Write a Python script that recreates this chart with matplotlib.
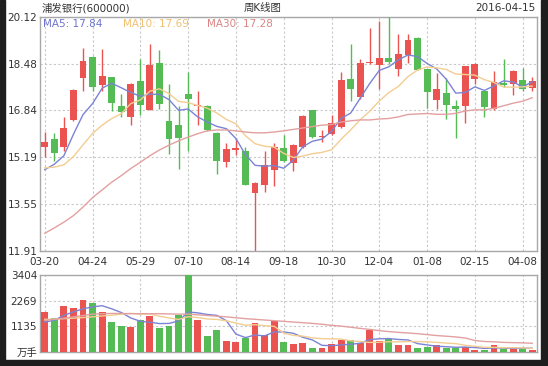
import numpy as np
import pandas as pd
import matplotlib
matplotlib.use('Agg')
import matplotlib.pyplot as plt
from matplotlib.patches import Rectangle

plt.rcParams['font.family'] = ['DejaVu Sans', 'Noto Sans CJK SC']

# weekly K-line data, 浦发银行 (600000), 2015-03-20 .. 2016-04-15
opens = [15.57, 15.82, 15.57, 16.49, 17.98, 18.72, 17.71, 17.99, 16.99, 16.60,
         17.87, 16.86, 18.49, 16.47, 16.31, 17.41, 16.99, 16.99, 16.03, 15.02,
         15.45, 15.43, 13.93, 14.22, 14.74, 15.51, 14.99, 15.57, 16.84, 15.89,
         16.00, 16.26, 17.93, 17.30, 18.50, 18.42, 18.69, 18.28, 18.78, 19.36,
         18.28, 17.21, 17.45, 16.99, 16.99, 17.94, 17.53, 16.87, 17.80, 17.76,
         17.91, 17.61]
closes = [15.74, 15.36, 16.21, 17.56, 18.58, 17.67, 18.05, 17.08, 16.77, 17.75,
          17.01, 18.42, 17.05, 15.84, 15.88, 17.24, 17.04, 16.15, 15.07, 15.48,
          15.51, 14.22, 14.28, 14.93, 15.57, 15.05, 15.63, 16.64, 15.89, 15.94,
          16.40, 17.91, 17.57, 18.49, 18.53, 18.69, 18.55, 18.80, 19.32, 18.26,
          17.48, 17.59, 17.01, 16.87, 18.38, 18.46, 16.96, 17.82, 17.73, 18.20,
          17.59, 17.86]
highs = [16.09, 16.06, 16.59, 17.59, 19.03, 18.75, 19.00, 18.00, 17.42, 17.80,
         18.63, 19.18, 18.95, 17.76, 16.99, 18.17, 17.50, 17.01, 16.09, 15.69,
         15.86, 15.54, 14.32, 15.40, 15.69, 15.99, 15.65, 16.67, 16.84, 16.15,
         16.67, 18.17, 19.18, 18.63, 19.73, 19.97, 20.12, 19.50, 19.50, 19.42,
         18.28, 18.15, 17.96, 17.19, 18.40, 18.51, 17.53, 18.23, 18.63, 18.25,
         18.31, 17.99]
lows = [15.22, 15.05, 15.40, 16.46, 17.53, 17.50, 17.50, 16.82, 16.59, 16.32,
        16.67, 16.84, 16.87, 15.32, 14.80, 15.40, 16.34, 16.11, 14.61, 14.85,
        15.28, 14.22, 11.91, 13.99, 14.18, 15.03, 14.70, 15.51, 15.86, 15.74,
        15.97, 16.21, 17.15, 17.24, 18.46, 17.59, 18.46, 18.03, 18.51, 18.26,
        16.92, 16.90, 16.52, 15.88, 16.40, 17.76, 16.59, 16.84, 17.65, 17.38,
        17.50, 17.53]
volumes = [1789, 1509, 2041, 1953, 2308, 2188, 1789, 1345, 1140, 1095,
           1436, 1584, 1051, 1169, 1658, 3404, 1406, 696, 962, 474,
           429, 636, 1288, 740, 1362, 429, 340, 385, 163, 163,
           340, 518, 518, 414, 976, 501, 577, 311, 311, 163,
           207, 296, 192, 192, 207, 104, 104, 296, 148, 148,
           148, 104]

# moving-average values before a full window is available
ma5_head = [14.76, 14.95, 15.25, 16.0]
ma10_head = [14.82, 14.85, 14.93, 15.22, 15.63, 16.03, 16.32, 16.55, 16.72]
ma30_head = [12.53, 12.72, 12.92, 13.15, 13.45, 13.78, 14.05, 14.32, 14.55, 14.80,
             15.02, 15.25, 15.45, 15.62, 15.77, 15.90, 16.02, 16.12, 16.15, 16.15,
             16.12, 16.08, 16.05, 16.05, 16.08, 16.12, 16.17, 16.22, 16.27]
vma5_head = [1332, 1406, 1628, 1776]
vma10_head = [1450, 1460, 1480, 1500, 1530, 1560, 1600, 1630, 1680]
vma30_head = [1400, 1450, 1500, 1560, 1620, 1680, 1700, 1710, 1710, 1700,
              1700, 1700, 1700, 1690, 1680, 1680, 1650, 1620, 1590, 1560,
              1520, 1480, 1450, 1420, 1390, 1360, 1330, 1300, 1270]

tick_labels = ['03-20', '04-24', '05-29', '07-10', '08-14', '09-18',
               '10-30', '12-04', '01-08', '02-15', '04-08']

RED = '#ea5350'
GREEN = '#55bb55'
C5 = '#7b84d4'
C10 = '#f3cd92'
C30 = '#e3a0a0'
GRID = '#c8c8c8'


def moving_avg(values, n, head):
    s = pd.Series(values, dtype=float).rolling(n).mean().to_numpy()
    s[:len(head)] = head
    return s


n = len(closes)
x = np.arange(n)
ma5 = moving_avg(closes, 5, ma5_head)
ma10 = moving_avg(closes, 10, ma10_head)
ma30 = moving_avg(closes, 30, ma30_head)
vma5 = moving_avg(volumes, 5, vma5_head)
vma10 = moving_avg(volumes, 10, vma10_head)
vma30 = moving_avg(volumes, 30, vma30_head)
colors = [RED if c >= o else GREEN for o, c in zip(opens, closes)]

fig = plt.figure(figsize=(5.48, 3.66), dpi=100)
W, H = 548, 366
ax = fig.add_axes([40 / W, 1 - 251 / H, 497 / W, 234.3 / H])
axv = fig.add_axes([40 / W, 1 - 352 / H, 497 / W, 76.7 / H])

# candles
ax.vlines(x, lows, highs, colors=colors, linewidth=1, zorder=3)
body_lo = np.minimum(opens, closes)
body_h = np.maximum(np.abs(np.array(closes) - np.array(opens)), 0.04)
ax.bar(x, body_h, bottom=body_lo, width=0.72, color=colors, zorder=4)
ax.plot(x, ma5, color=C5, lw=1, zorder=5)
ax.plot(x, ma10, color=C10, lw=1, zorder=5)
ax.plot(x, ma30, color=C30, lw=1, zorder=5)

lo, hi = min(lows), max(highs)
ax.set_ylim(lo, hi)
yt = np.linspace(lo, hi, 6)
ax.set_yticks(yt)
ax.set_yticklabels(['%.2f' % v for v in yt])
ticks = list(range(0, n, 5))
ax.set_xticks(ticks)
ax.set_xticklabels(tick_labels)
ax.set_xlim(-0.5, n - 0.5)

# volume
axv.bar(x, volumes, width=0.72, color=colors, zorder=3)
axv.plot(x, vma5, color=C5, lw=1, zorder=4)
axv.plot(x, vma10, color=C10, lw=1, zorder=4)
axv.plot(x, vma30, color=C30, lw=1, zorder=4)
vmax = max(volumes)
axv.set_ylim(0, vmax)
vt = np.linspace(0, vmax, 4)
axv.set_yticks(vt)
axv.set_yticklabels(['万手'] + ['%d' % round(v) for v in vt[1:]])
axv.set_xticks(ticks)
axv.set_xticklabels([])
axv.set_xlim(-0.5, n - 0.5)

for a in (ax, axv):
    a.grid(True, color=GRID, linestyle=(0, (2, 2)), linewidth=0.8)
    a.set_axisbelow(True)
    a.tick_params(length=0, labelsize=7.5, colors='#333333', pad=2)
    for s in a.spines.values():
        s.set_color('#a8a8a8')
        s.set_linewidth(1)
ax.tick_params(axis='x', pad=4)

fig.text(42 / W, 1 - 8 / H, '浦发银行(600000)', fontsize=7.5, color='#333333',
         va='center', ha='left')
fig.text(263 / W, 1 - 8 / H, '周K线图', fontsize=7.5, color='#333333',
         va='center', ha='center')
fig.text(536 / W, 1 - 8 / H, '2016-04-15', fontsize=7.5, color='#333333',
         va='center', ha='right')
fig.text(43 / W, 1 - 24 / H, 'MA5: %.2f' % ma5[-1], fontsize=7.5, color='#6e74cc',
         va='center', ha='left')
fig.text(123 / W, 1 - 24 / H, 'MA10: %.2f' % ma10[-1], fontsize=7.5, color='#f0c070',
         va='center', ha='left')
fig.text(207 / W, 1 - 24 / H, 'MA30: %.2f' % ma30[-1], fontsize=7.5, color='#d98585',
         va='center', ha='left')

# dark frame at the picture edges
for rect in [(0, 0, 5 / W, 1), (541 / W, 0, 7 / W, 1), (0, 0, 1, 6 / H)]:
    fig.patches.append(Rectangle(rect[:2], rect[2], rect[3], transform=fig.transFigure,
                                 color='#1e1e1e', zorder=10))

fig.savefig('out.png', dpi=100)
